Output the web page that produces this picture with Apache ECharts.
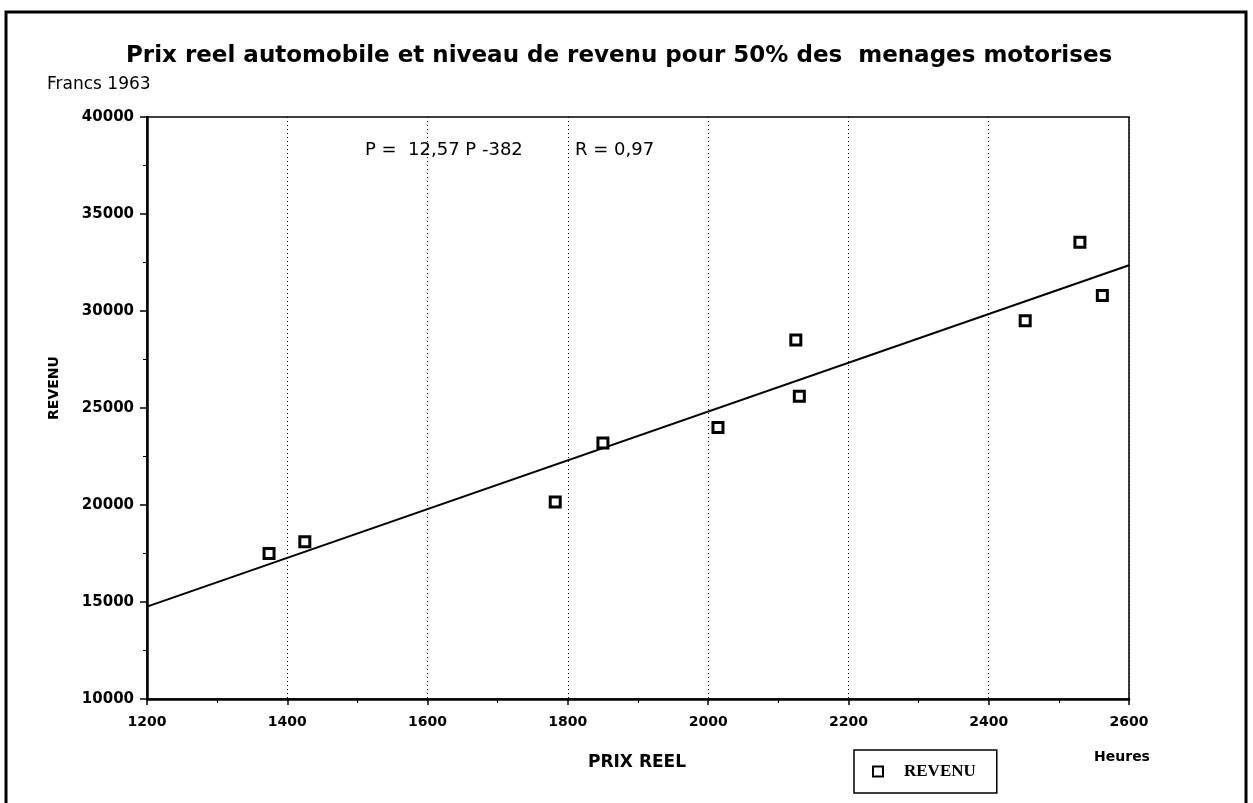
<!DOCTYPE html>
<html>
<head>
<meta charset="utf-8">
<title>Prix reel automobile et niveau de revenu</title>
<script src="https://cdn.jsdelivr.net/npm/echarts@6/dist/echarts.min.js"></script>
<style>
  html, body { margin: 0; padding: 0; background: #fff; }
  #main { width: 1253px; height: 803px; }
</style>
</head>
<body>
<div id="main"></div>
<script>
// prix reel (heures) et revenu (francs 1963)
var prixReel = [1374, 1425, 1782, 1850, 2014, 2125, 2130, 2452, 2530, 2562];
var revenu = [17500, 18100, 20150, 23200, 24000, 28500, 25600, 29500, 33550, 30800];

// droite de regression, lue aux bords du graphique
var droiteX = [1200, 2600];
var droiteY = [14760, 32360];

var xTicks = [1200, 1400, 1600, 1800, 2000, 2200, 2400, 2600];
var yTicks = [10000, 15000, 20000, 25000, 30000, 35000, 40000];

var titre = 'Prix reel automobile et niveau de revenu pour 50% des  menages motorises';
var equation = 'P =  12,57 P -382';
var correlation = 'R = 0,97';

var font = 'DejaVu Sans';

var chart = echarts.init(document.getElementById('main'));

var points = prixReel.map(function (x, i) { return [x, revenu[i]]; });
var droite = droiteX.map(function (x, i) { return [x, droiteY[i]]; });

var option = {
  backgroundColor: '#fff',
  animation: false,
  title: {
    text: titre,
    left: 121,
    top: 40,
    textStyle: { fontFamily: font, fontSize: 23, fontWeight: 'bold', color: '#000' }
  },
  grid: {
    left: 147,
    right: 124,
    top: 117,
    bottom: 104,
    show: true,
    borderColor: '#000',
    borderWidth: 1.5
  },
  xAxis: {
    type: 'value',
    min: xTicks[0],
    max: xTicks[xTicks.length - 1],
    interval: 200,
    axisLine: { show: true, lineStyle: { color: '#000', width: 2.5 } },
    axisTick: { show: true, length: 6, lineStyle: { color: '#000', width: 1.5 } },
    minorTick: { show: true, splitNumber: 2, length: 4, lineStyle: { color: '#000' } },
    axisLabel: {
      margin: 16,
      formatter: function (v) { return String(v); },
      fontFamily: font, fontSize: 14, fontWeight: 'bold', color: '#000'
    },
    splitLine: {
      show: true,
      lineStyle: { color: '#000', width: 1, type: [1, 3] }
    }
  },
  yAxis: {
    type: 'value',
    min: yTicks[0],
    max: yTicks[yTicks.length - 1],
    interval: 5000,
    axisLine: { show: true, lineStyle: { color: '#000', width: 2.5 } },
    axisTick: { show: true, length: 7, lineStyle: { color: '#000', width: 1.5 } },
    minorTick: { show: true, splitNumber: 2, length: 4, lineStyle: { color: '#000' } },
    axisLabel: {
      margin: 13,
      formatter: function (v) { return String(v); },
      fontFamily: font, fontSize: 15, fontWeight: 'bold', color: '#000'
    },
    splitLine: { show: false }
  },
  legend: {
    data: ['REVENU'],
    left: 854,
    top: 750,
    orient: 'horizontal',
    padding: [13, 21, 13, 18],
    borderColor: '#000',
    borderWidth: 1.5,
    itemWidth: 10,
    itemHeight: 10,
    formatter: function (name) { return '{t|' + name + '}'; },
    textStyle: {
      color: '#000',
      rich: { t: { fontFamily: 'Liberation Serif', fontSize: 17, fontWeight: 'bold', padding: [0, 0, 0, 16], color: '#000' } }
    }
  },
  series: [
    {
      name: 'REVENU',
      type: 'scatter',
      symbol: 'rect',
      symbolSize: 10,
      itemStyle: { color: '#fff', borderColor: '#000', borderWidth: 3, opacity: 1 },
      data: points,
      z: 3
    },
    {
      name: 'droite',
      type: 'line',
      symbol: 'none',
      lineStyle: { color: '#000', width: 2 },
      data: droite,
      z: 2
    }
  ],
  graphic: [
    {
      type: 'rect',
      shape: { x: 6, y: 12, width: 1240, height: 820 },
      style: { fill: 'none', stroke: '#000', lineWidth: 3 },
      silent: true
    },
    {
      type: 'text',
      left: 47, top: 76,
      style: { text: 'Francs 1963', fontFamily: font, fontSize: 17, fill: '#000' }
    },
    {
      type: 'text',
      left: 365, top: 141,
      style: { text: equation, fontFamily: font, fontSize: 18, fill: '#000' }
    },
    {
      type: 'text',
      left: 575, top: 141,
      style: { text: correlation, fontFamily: font, fontSize: 18, fill: '#000' }
    },
    {
      type: 'text',
      x: 54, y: 388,
      rotation: Math.PI / 2,
      style: {
        text: 'REVENU', fontFamily: font, fontSize: 14, fontWeight: 'bold', fill: '#000',
        align: 'center', verticalAlign: 'middle'
      }
    },
    {
      type: 'text',
      x: 637, y: 763,
      style: {
        text: 'PRIX REEL', fontFamily: font, fontSize: 17, fontWeight: 'bold', fill: '#000',
        align: 'center', verticalAlign: 'middle'
      }
    },
    {
      type: 'text',
      x: 1122, y: 757,
      style: {
        text: 'Heures', fontFamily: font, fontSize: 14, fontWeight: 'bold', fill: '#000',
        align: 'center', verticalAlign: 'middle'
      }
    }
  ]
};

chart.setOption(option);
</script>
</body>
</html>
